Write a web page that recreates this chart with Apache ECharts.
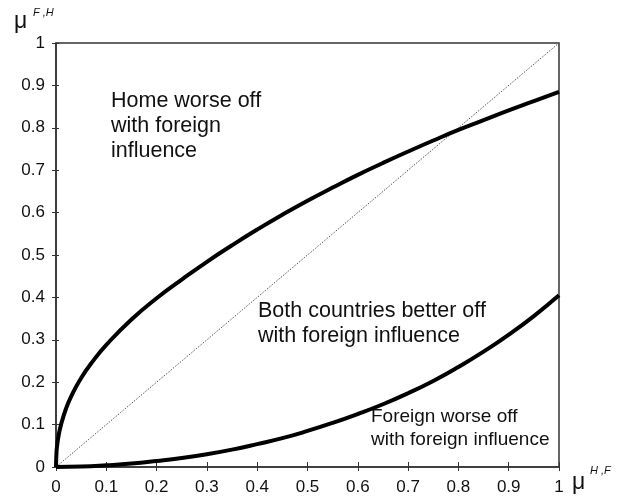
<!DOCTYPE html>
<html>
<head>
<meta charset="utf-8">
<script src="https://cdn.jsdelivr.net/npm/echarts@6/dist/echarts.min.js"></script>
<style>html,body{margin:0;padding:0;background:#fff;}#c{width:622px;height:498px;}</style>
</head>
<body>
<div id="c"></div>
<script>
// ---- data ----
const upperX = [0, 0.001, 0.002, 0.005, 0.01, 0.02, 0.03, 0.05, 0.075, 0.1, 0.15, 0.2, 0.25, 0.3, 0.35, 0.4, 0.45, 0.5, 0.55, 0.6, 0.65, 0.7, 0.75, 0.8, 0.85, 0.9, 0.95, 1.0];
const upperY = [0, 0.035, 0.048, 0.073, 0.1, 0.138, 0.166, 0.21, 0.252, 0.288, 0.348, 0.398, 0.442, 0.484, 0.523, 0.56, 0.595, 0.628, 0.659, 0.689, 0.717, 0.744, 0.77, 0.795, 0.818, 0.841, 0.863, 0.885];
const lowerX = [0, 0.05, 0.1, 0.15, 0.2, 0.25, 0.3, 0.35, 0.4, 0.45, 0.5, 0.55, 0.6, 0.65, 0.7, 0.75, 0.8, 0.85, 0.9, 0.95, 1.0];
const lowerY = [0, 0.001, 0.004, 0.008, 0.014, 0.021, 0.03, 0.041, 0.054, 0.068, 0.085, 0.104, 0.125, 0.148, 0.174, 0.203, 0.236, 0.272, 0.312, 0.356, 0.405];
const diagX = [0, 1];
const diagY = [0, 1];
const tickLabelsX = ['0', '0.1', '0.2', '0.3', '0.4', '0.5', '0.6', '0.7', '0.8', '0.9', '1'];
const tickLabelsY = ['0', '0.1', '0.2', '0.3', '0.4', '0.5', '0.6', '0.7', '0.8', '0.9', '1'];
const notes = [
  'Home worse off\nwith foreign\ninfluence',
  'Both countries better off\nwith foreign influence',
  'Foreign worse off\nwith foreign influence'
];

const pairs = (xs, ys) => xs.map((x, i) => [x, ys[i]]);
const fmtX = v => tickLabelsX[Math.round(v * 10)];
const fmtY = v => tickLabelsY[Math.round(v * 10)];
const FONT = 'Liberation Sans, Arial, sans-serif';
const AX = '#333';

const chart = echarts.init(document.getElementById('c'), null, {renderer: 'canvas'});
const baseX = {
  type: 'value', min: 0, max: 1, interval: 0.1, position: 'bottom'
};
const baseY = {
  type: 'value', min: 0, max: 1, interval: 0.1, position: 'left'
};
chart.setOption({
  animation: false,
  backgroundColor: '#fff',
  grid: {left: 56, right: 63, top: 43, bottom: 31, show: true, borderColor: AX, borderWidth: 1.5, backgroundColor: 'transparent'},
  xAxis: [
    Object.assign({}, baseX, {
      axisLine: {show: true, onZero: false, lineStyle: {color: AX, width: 1.5}},
      axisTick: {show: true, inside: false, length: 4, lineStyle: {color: AX, width: 1}},
      axisLabel: {show: true, margin: 12, color: '#111', fontSize: 17, fontFamily: FONT, formatter: fmtX},
      splitLine: {show: false}
    }),
    Object.assign({}, baseX, {
      axisLine: {show: false, onZero: false},
      axisTick: {show: true, inside: true, length: 5, lineStyle: {color: AX, width: 1}},
      axisLabel: {show: false},
      splitLine: {show: false}
    })
  ],
  yAxis: [
    Object.assign({}, baseY, {
      axisLine: {show: true, onZero: false, lineStyle: {color: AX, width: 1.5}},
      axisTick: {show: true, inside: false, length: 4, lineStyle: {color: AX, width: 1}},
      axisLabel: {show: true, margin: 11, color: '#111', fontSize: 17, fontFamily: FONT, formatter: fmtY},
      splitLine: {show: false}
    }),
    Object.assign({}, baseY, {
      axisLine: {show: false, onZero: false},
      axisTick: {show: true, inside: true, length: 3, lineStyle: {color: AX, width: 1}},
      axisLabel: {show: false},
      splitLine: {show: false}
    })
  ],
  series: [
    {
      type: 'line', data: pairs(diagX, diagY), showSymbol: false, silent: true,
      lineStyle: {color: '#555', width: 1, type: [1.5, 1.5]}
    },
    {
      type: 'line', data: pairs(upperX, upperY), showSymbol: false, smooth: 0.5, silent: true,
      lineStyle: {color: '#000', width: 4}
    },
    {
      type: 'line', data: pairs(lowerX, lowerY), showSymbol: false, smooth: 0.5, silent: true,
      lineStyle: {color: '#000', width: 4}
    }
  ],
  graphic: [
    {type: 'text', left: 111, top: 89, style: {text: notes[0], font: '21.5px ' + FONT, lineHeight: 25, fill: '#111'}},
    {type: 'text', left: 258, top: 299, style: {text: notes[1], font: '21.5px ' + FONT, lineHeight: 25, fill: '#111'}},
    {type: 'text', left: 371, top: 405, style: {text: notes[2], font: '19px ' + FONT, lineHeight: 23, fill: '#111'}},
    {type: 'text', left: 14, top: 10, style: {text: 'μ', font: '23px ' + FONT, fill: '#111'}},
    {type: 'text', left: 33, top: 7, style: {text: 'F ,H', font: 'italic 11px ' + FONT, fill: '#111'}},
    {type: 'text', left: 572, top: 471, style: {text: 'μ', font: '23px ' + FONT, fill: '#111'}},
    {type: 'text', left: 590, top: 465, style: {text: 'H ,F', font: 'italic 11px ' + FONT, fill: '#111'}}
  ]
});
</script>
</body>
</html>
